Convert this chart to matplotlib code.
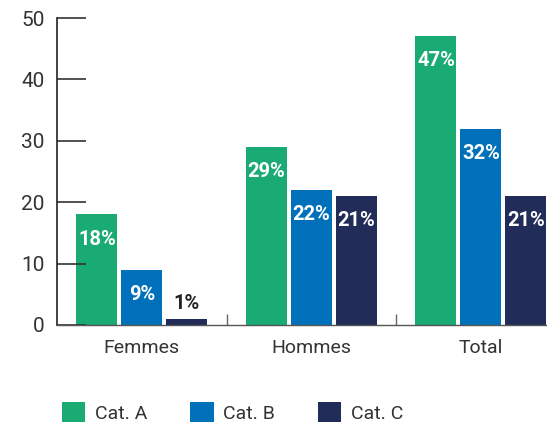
import matplotlib
matplotlib.use("Agg")
import matplotlib.pyplot as plt
import numpy as np
from matplotlib.patches import Patch

categories = ["Femmes", "Hommes", "Total"]
series_names = ["Cat. A", "Cat. B", "Cat. C"]
cat_a = [18, 29, 47]
cat_b = [9, 22, 32]
cat_c = [1, 21, 21]
colors = ["#1AAB74", "#0070BA", "#222C58"]

plt.rcParams['font.family'] = ['Roboto', 'DejaVu Sans']

fig = plt.figure(figsize=(5.47, 4.24), dpi=100)
ax = fig.add_axes([57/547, 1-325/424, 1-57/547, (325-18)/424])

x = np.arange(len(categories))
step = 0.265
width = 0.242
all_series = [cat_a, cat_b, cat_c]
for i, (vals, col, name) in enumerate(zip(all_series, colors, series_names)):
    pos = x + (i-1)*step
    ax.bar(pos, vals, width=width, color=col, label=name)
    for p, v in zip(pos, vals):
        if v < 5:
            ax.text(p, v + 0.9, f"{v}%", ha='center', va='bottom', color='#222222',
                    fontsize=14.5, fontweight='bold')
        else:
            ax.text(p, v - 4.0, f"{v}%", ha='center', va='center', color='white',
                    fontsize=14.5, fontweight='bold')

ax.set_xlim(-0.5, 2.39)
ax.set_ylim(0, 50)
ax.set_yticks([0, 10, 20, 30, 40, 50])
ax.tick_params(axis='y', direction='in', length=21, width=1.2, color='#333333',
               labelsize=15, labelcolor='#333333', pad=9)
ax.set_xticks(x)
ax.set_xticklabels(categories)
ax.tick_params(axis='x', length=0, labelsize=14, labelcolor='#333333', pad=10)
ax.set_xticks([0.5, 1.5], minor=True)
ax.tick_params(axis='x', which='minor', direction='in', length=8, width=1, color='#666666')

for s in ['top', 'right']:
    ax.spines[s].set_visible(False)
ax.spines['left'].set_color('#222222')
ax.spines['left'].set_linewidth(1.2)
ax.spines['bottom'].set_color('#555555')
ax.spines['bottom'].set_linewidth(1.0)

handles = [Patch(facecolor=c, edgecolor='none') for c in colors]
fig.legend(handles, series_names, loc='lower left', bbox_to_anchor=(62/547, 1/424),
           ncol=3, frameon=False, fontsize=14, handlelength=1.2, handleheight=1.2,
           handletextpad=0.5, columnspacing=2.2, labelcolor='#333333',
           borderpad=0, borderaxespad=0)

fig.savefig("out.png", dpi=100)
